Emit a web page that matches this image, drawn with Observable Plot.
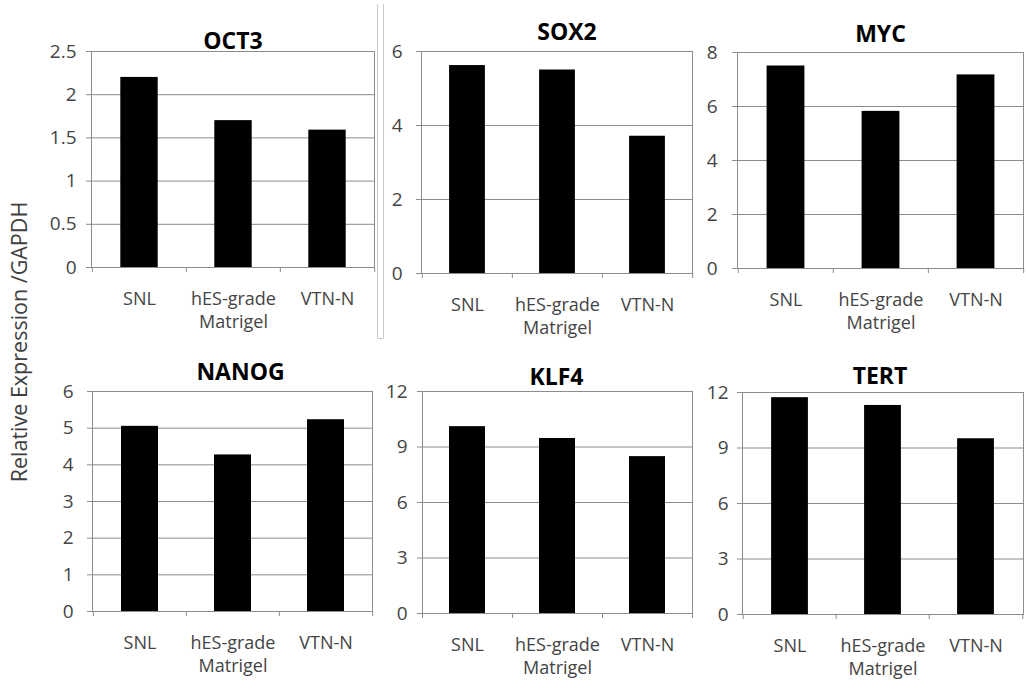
<!DOCTYPE html>
<html>
<head>
<meta charset="utf-8">
<script src="https://cdn.jsdelivr.net/npm/d3@7"></script>
<script src="https://cdn.jsdelivr.net/npm/@observablehq/plot@0.6"></script>
<style>
  html, body { margin: 0; padding: 0; background: #fff; }
  #chart { position: relative; width: 1026px; height: 691px; overflow: hidden; font-family: "Open Sans", sans-serif; }
  .panel { position: absolute; }
  .panel svg { max-width: none !important; }
  #ylabel { position: absolute; left: -136px; top: 330px; width: 310px; height: 24px; line-height: 24px;
            text-align: center; font-size: 21.5px; color: #404040; transform: rotate(-90deg); white-space: nowrap; }
  #sep { position: absolute; left: 377px; top: 4px; width: 5px; height: 334px;
         border: 1px solid #c8c8c8; border-top: none; border-radius: 0 0 2px 2px; }
</style>
</head>
<body>
<div id="chart">
  <div id="sep"></div>
  <div id="ylabel">Relative Expression /GAPDH</div>
</div>
<script>
// ---- data ----
const conditions = ["SNL", "hES-grade Matrigel", "VTN-N"];
const conditionLabels = ["SNL", "hES-grade\nMatrigel", "VTN-N"];
const genes = ["OCT3", "SOX2", "MYC", "NANOG", "KLF4", "TERT"];
const oct3  = [2.2, 1.7, 1.59];
const sox2  = [5.62, 5.5, 3.71];
const myc   = [7.5, 5.82, 7.17];
const nanog = [5.05, 4.27, 5.23];
const klf4  = [10.1, 9.46, 8.48];
const tert  = [11.72, 11.3, 9.5];
const yMax = [2.5, 6, 8, 6, 12, 12];
const yTicks = [
  [0, 0.5, 1, 1.5, 2, 2.5],
  [0, 2, 4, 6],
  [0, 2, 4, 6, 8],
  [0, 1, 2, 3, 4, 5, 6],
  [0, 3, 6, 9, 12],
  [0, 3, 6, 9, 12]
];
const series = [oct3, sox2, myc, nanog, klf4, tert];

// ---- layout (plot frame boxes in page pixels) ----
const layout = [
  {l: 91,  r: 374,  t: 51,  b: 267, pad: 10, titleDy: -19, titleDx: 0},
  {l: 421, r: 692,  t: 51,  b: 273, pad: 14, titleDy: -28, titleDx: 10},
  {l: 737, r: 1023, t: 52,  b: 268, pad: 15, titleDy: -27, titleDx: 0},
  {l: 92,  r: 372,  t: 391, b: 611, pad: 14, titleDy: -28, titleDx: 8},
  {l: 422, r: 692,  t: 391, b: 613, pad: 10, titleDy: -23, titleDx: -1},
  {l: 742, r: 1023, t: 392, b: 614, pad: 9,  titleDy: -25, titleDx: -3}
];
const M = {left: 60, right: 3, top: 45, bottom: 70};
const gray = "#8c8c8c";
const labelColor = "#444444";

const chart = document.getElementById("chart");
const labelOf = d => conditionLabels[conditions.indexOf(d)];

genes.forEach((gene, g) => {
  const L = layout[g];
  const data = conditions.map((c, i) => ({condition: c, value: series[g][i]}));
  const plotW = L.r - L.l, plotH = L.b - L.t;
  const bw = plotW / conditions.length;
  const svg = Plot.plot({
    width: M.left + plotW + M.right,
    height: M.top + plotH + M.bottom,
    marginLeft: M.left, marginRight: M.right, marginTop: M.top, marginBottom: M.bottom,
    style: {background: "none", fontFamily: "'Open Sans', sans-serif", overflow: "visible"},
    x: {domain: conditions, padding: 0, axis: null},
    y: {domain: [0, yMax[g]], axis: null},
    marks: [
      Plot.gridY(yTicks[g], {stroke: gray, strokeOpacity: 1}),
      Plot.frame({stroke: gray}),
      Plot.barY(data, {x: "condition", y: "value", fill: "#000", insetLeft: bw * 0.3, insetRight: bw * 0.3}),
      Plot.axisY({ticks: yTicks[g], tickSize: 5, tickPadding: L.pad, tickFormat: d => String(d), label: null,
                  fontSize: 19, fill: labelColor, stroke: gray}),
      Plot.axisX({tickSize: 0, tickPadding: 21, tickFormat: labelOf, label: null, fontSize: 18,
                  fill: labelColor, lineHeight: 1.28}),
      Plot.ruleX(conditions, {x: d => d, y1: 0, y2: 0, dx: -bw / 2, insetBottom: -5, stroke: gray}),
      Plot.ruleX(conditions.slice(-1), {x: d => d, y1: 0, y2: 0, dx: bw / 2, insetBottom: -5, stroke: gray}),
      Plot.text([gene], {frameAnchor: "top", lineAnchor: "top", dy: L.titleDy, dx: L.titleDx,
                         text: d => d, fontSize: 23, fontWeight: "bold", fill: "#000"})
    ]
  });
  const div = document.createElement("div");
  div.className = "panel";
  div.style.left = (L.l - M.left) + "px";
  div.style.top = (L.t - M.top) + "px";
  div.appendChild(svg);
  chart.appendChild(div);
});
</script>
</body>
</html>
